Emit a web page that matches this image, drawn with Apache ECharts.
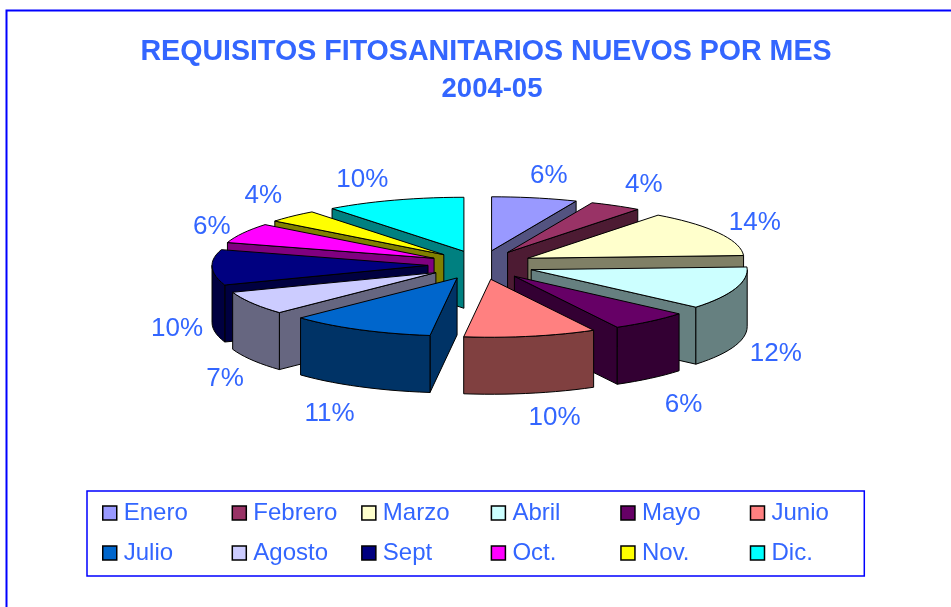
<!DOCTYPE html>
<html>
<head>
<meta charset="utf-8">
<style>
  html, body { margin: 0; padding: 0; background: #fff; }
  #main { width: 951px; height: 607px; }
</style>
<script src="https://cdn.jsdelivr.net/npm/echarts@6/dist/echarts.min.js"></script>
</head>
<body>
<div id="main"></div>
<script>
var months = ['Enero', 'Febrero', 'Marzo', 'Abril', 'Mayo', 'Junio', 'Julio', 'Agosto', 'Sept', 'Oct.', 'Nov.', 'Dic.'];
var shares = [6.4, 3.9, 13.9, 12, 5.9, 9.9, 10.9, 6.6, 10.2, 6, 3.85, 10.45];
var topColors = ['#9999FF', '#993366', '#FFFFCC', '#CCFFFF', '#660066', '#FF8080', '#0066CC', '#CCCCFF', '#000080', '#FF00FF', '#FFFF00', '#00FFFF'];
var sideColors = ['#535380', '#4D1B33', '#808066', '#668080', '#330033', '#804040', '#003366', '#666680', '#000040', '#800080', '#808000', '#008080'];

// pie projection
var CX = 481, CY = 265, RX = 216, RY_BACK = 54, RY_FRONT = 58, DEPTH = 57;
var EXPLODE_X = 53, EXPLODE_Y = 14.5;
var TEXT_BLUE = '#3366FF', FRAME_BLUE = '#0000FF';
// label shift away from the rim midpoint of each slice
var labelShift = [[14, -22], [28, -21], [36, -10], [40, 9], [33, 27], [24, 25], [-30, 27], [-27, 19], [-35, 5], [-31, -6], [-29, -20], [-32, -20]];

var total = shares.reduce(function (a, b) { return a + b; }, 0);
var slices = [];
var acc = 0;
shares.forEach(function (v) {
    var a0 = acc / total * Math.PI * 2;
    acc += v;
    var a1 = acc / total * Math.PI * 2;
    slices.push({ a0: a0, a1: a1, mid: (a0 + a1) / 2 });
});

function apex(s) {
    return [CX + EXPLODE_X * Math.sin(s.mid), CY - EXPLODE_Y * Math.cos(s.mid)];
}
function rimPoint(s, a) {
    var c = apex(s);
    var ry = Math.cos(a) > 0 ? RY_BACK : RY_FRONT;
    return [c[0] + RX * Math.sin(a), c[1] - ry * Math.cos(a)];
}
function down(p) {
    return [p[0], p[1] + DEPTH];
}
function arcAngles(a0, a1) {
    var out = [];
    var n = Math.max(2, Math.ceil((a1 - a0) / 0.05));
    for (var i = 0; i <= n; i++) {
        out.push(a0 + (a1 - a0) * i / n);
    }
    return out;
}

function renderSlice(params) {
    var i = params.seriesIndex;
    var s = slices[i];
    var c = apex(s);
    var line = { stroke: '#000', lineWidth: 1, lineJoin: 'round' };
    var kids = [];
    var poly = function (points, fill) {
        kids.push({ type: 'polygon', shape: { points: points }, style: Object.assign({ fill: fill }, line) });
    };
    // radial walls, only those turned to the viewer
    if (Math.sin(s.a0) < -0.001) {
        var p0 = rimPoint(s, s.a0);
        poly([c, p0, down(p0), down(c)], sideColors[i]);
    }
    if (Math.sin(s.a1) > 0.001) {
        var p1 = rimPoint(s, s.a1);
        poly([c, p1, down(p1), down(c)], sideColors[i]);
    }
    // outer wall, front half only
    var from = Math.max(s.a0, Math.PI / 2);
    var to = Math.min(s.a1, Math.PI * 1.5);
    if (to > from) {
        var upper = arcAngles(from, to).map(function (a) { return rimPoint(s, a); });
        poly(upper.concat(upper.map(down).reverse()), sideColors[i]);
    }
    // top face
    poly([c].concat(arcAngles(s.a0, s.a1).map(function (a) { return rimPoint(s, a); })), topColors[i]);
    // percent label
    var r = rimPoint(s, s.mid);
    var lx = r[0] + labelShift[i][0];
    var ly = r[1] + labelShift[i][1] + (Math.cos(s.mid) < 0 ? DEPTH : 0);
    kids.push({
        type: 'text',
        style: {
            x: lx, y: ly,
            text: Math.round(shares[i] / total * 100) + '%',
            fill: TEXT_BLUE,
            font: '26px "Liberation Sans"',
            align: 'center',
            verticalAlign: 'middle'
        }
    });
    return { type: 'group', children: kids };
}

var chart = echarts.init(document.getElementById('main'), null, { width: 951, height: 607 });
chart.setOption({
    animation: false,
    backgroundColor: '#fff',
    title: [
        {
            text: 'REQUISITOS FITOSANITARIOS NUEVOS POR MES',
            left: 486, top: 37, textAlign: 'center', padding: 0,
            textStyle: { color: TEXT_BLUE, fontFamily: 'Liberation Sans', fontWeight: 'bold', fontSize: 28.6, lineHeight: 30 }
        },
        {
            text: '2004-05',
            left: 492, top: 74, textAlign: 'center', padding: 0,
            textStyle: { color: TEXT_BLUE, fontFamily: 'Liberation Sans', fontWeight: 'bold', fontSize: 27.5, lineHeight: 30 }
        }
    ],
    legend: {
        left: 87, top: 491, width: 775,
        orient: 'horizontal',
        padding: [10, 1, 11, 15],
        itemGap: 16,
        itemWidth: 14, itemHeight: 14,
        icon: 'rect',
        borderColor: FRAME_BLUE, borderWidth: 1.5,
        itemStyle: { borderColor: '#000', borderWidth: 1.5 },
        textStyle: { color: TEXT_BLUE, fontFamily: 'Liberation Sans', fontSize: 24, width: 91.8, height: 24, lineHeight: 24, padding: [0, 0, 0, 2] },
        data: months
    },
    graphic: [{
        type: 'rect', silent: true,
        shape: { x: 6.5, y: 10.5, width: 1000, height: 700 },
        style: { fill: 'none', stroke: FRAME_BLUE, lineWidth: 2 }
    }],
    series: months.map(function (name, i) {
        return {
            type: 'custom',
            name: name,
            coordinateSystem: 'none',
            silent: true,
            // slices further back are painted first
            z: 10 - Math.cos(slices[i].mid),
            itemStyle: { color: topColors[i] },
            renderItem: renderSlice,
            data: [[shares[i]]]
        };
    })
});
</script>
</body>
</html>
